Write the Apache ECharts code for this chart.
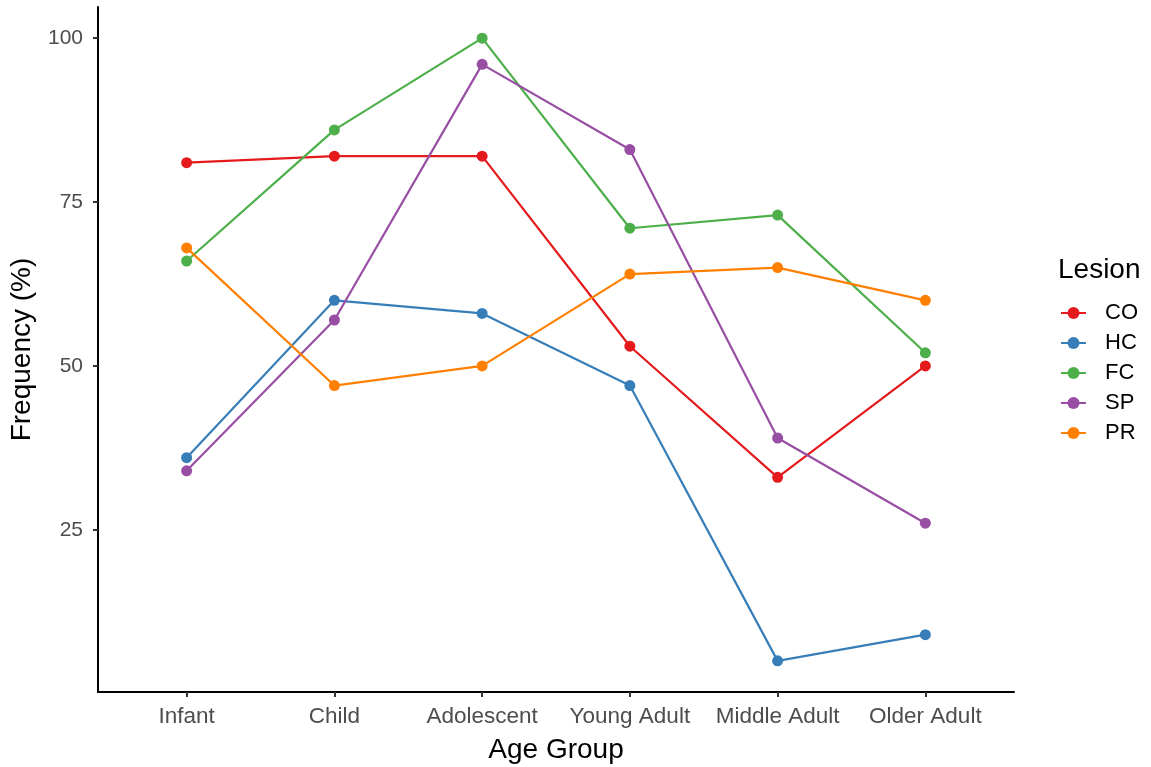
<!DOCTYPE html>
<html>
<head>
<meta charset="utf-8">
<script src="https://cdn.jsdelivr.net/npm/echarts@6/dist/echarts.min.js"></script>
<style>
  html, body { margin: 0; padding: 0; background: #ffffff; }
  #chart { width: 1151px; height: 767px; }
</style>
</head>
<body>
<div id="chart"></div>
<script>
// Age groups along the x axis
const categories = ['Infant', 'Child', 'Adolescent', 'Young Adult', 'Middle Adult', 'Older Adult'];

// Frequency (%) of each lesion type per age group
const CO = [81, 82, 82, 53, 33, 50];
const HC = [36, 60, 58, 47, 5, 9];
const FC = [66, 86, 100, 71, 73, 52];
const SP = [34, 57, 96, 83, 39, 26];
const PR = [68, 47, 50, 64, 65, 60];

const yTicks = [25, 50, 75, 100];

const seriesDefs = [
  { name: 'CO', values: CO, color: '#E41A1C' },
  { name: 'HC', values: HC, color: '#377EB8' },
  { name: 'FC', values: FC, color: '#4DAF4A' },
  { name: 'SP', values: SP, color: '#984EA3' },
  { name: 'PR', values: PR, color: '#FF7F00' }
];

// category positions 1..n on a numeric axis, padded by 0.6 on each side
const xPositions = categories.map((_, i) => i + 1);
const labelFont = 'Liberation Sans, Arial, sans-serif';

const chart = echarts.init(document.getElementById('chart'), null, { renderer: 'canvas' });

chart.setOption({
  backgroundColor: '#ffffff',
  animation: false,
  title: {
    text: 'Lesion',
    left: 1053,
    top: 251,
    textStyle: { fontFamily: labelFont, fontSize: 28, fontWeight: 'normal', color: '#000000' }
  },
  legend: {
    orient: 'vertical',
    left: 1055,
    top: 297,
    itemWidth: 25,
    itemHeight: 15,
    itemGap: 8,
    data: seriesDefs.map(s => s.name),
    textStyle: { fontFamily: labelFont, fontSize: 22, lineHeight: 22, color: '#000000', padding: [0, 0, 0, 14] }
  },
  grid: { left: 98, right: 137, top: 7, bottom: 75, containLabel: false, outerBoundsMode: 'none' },
  xAxis: {
    type: 'value',
    min: 0.4,
    max: 6.6,
    name: 'Age Group',
    nameLocation: 'middle',
    nameGap: 44,
    nameTextStyle: { fontFamily: labelFont, fontSize: 28, color: '#000000' },
    splitLine: { show: false },
    axisLine: { show: true, lineStyle: { color: '#000000', width: 2 } },
    axisTick: { show: true, length: 5, lineStyle: { color: '#333333', width: 2 }, customValues: xPositions },
    axisLabel: {
      customValues: xPositions,
      formatter: v => categories[Math.round(v) - 1] || '',
      margin: 13,
      fontFamily: labelFont,
      fontSize: 22.5,
      color: '#4D4D4D'
    }
  },
  yAxis: {
    type: 'value',
    min: 0.25,
    max: 104.75,
    name: 'Frequency (%)',
    nameLocation: 'middle',
    nameGap: 62,
    nameTextStyle: { fontFamily: labelFont, fontSize: 28, color: '#000000' },
    splitLine: { show: false },
    axisLine: { show: true, lineStyle: { color: '#000000', width: 2 } },
    axisTick: { show: true, length: 5, lineStyle: { color: '#333333', width: 2 }, customValues: yTicks },
    axisLabel: {
      customValues: yTicks,
      margin: 15,
      fontFamily: labelFont,
      fontSize: 21,
      color: '#4D4D4D'
    }
  },
  series: seriesDefs.map(s => ({
    name: s.name,
    type: 'line',
    data: s.values.map((v, i) => [xPositions[i], v]),
    symbol: 'circle',
    symbolSize: 11,
    color: s.color,
    lineStyle: { color: s.color, width: 2.2 },
    itemStyle: { color: s.color },
    emphasis: { disabled: true }
  }))
});
</script>
</body>
</html>
